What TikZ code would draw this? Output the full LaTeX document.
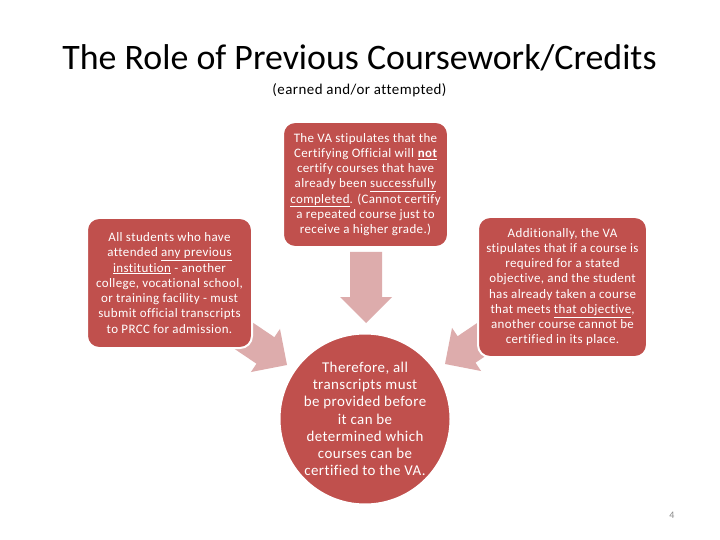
\documentclass[tikz,border=0pt]{standalone}
\usepackage{fontspec}
\setmainfont{Carlito}[Ligatures={NoCommon}]
\newfontfamily\boxfont{Carlito}[LetterSpace=3, Ligatures={NoCommon}]
\definecolor{boxred}{HTML}{C0504D}
\definecolor{arrowpink}{RGB}{221,172,172}
\definecolor{pagegray}{HTML}{898989}
\tikzset{
  rbox/.style={draw=white, line width=2bp, fill=boxred, rounded corners=12bp,
    text=white, align=center, inner sep=0pt,
    font=\boxfont\fontsize{13}{15.3}\selectfont},
  resultcircle/.style={circle, draw=white, line width=2bp, fill=boxred,
    text=white, align=center, inner sep=0pt, minimum size=171bp,
    font=\boxfont\fontsize{15}{17.3}\selectfont},
  blockarrow/.style={fill=arrowpink, draw=none},
  titletext/.style={anchor=base, inner sep=0pt, font=\fontsize{36}{40}\selectfont},
  subtext/.style={anchor=base, inner sep=0pt, font=\boxfont\fontsize{15}{17}\selectfont},
  pagenum/.style={inner sep=0pt, text=pagegray, font=\fontsize{10}{12}\selectfont}
}
% block arrow pointing along +x, tip at the origin of the scope
\newcommand{\drawblockarrow}{%
  \fill[blockarrow] (0,0) -- (-26,-26) -- (-26,-16) -- (-71,-16) -- (-71,16)
    -- (-26,16) -- (-26,26) -- cycle;}
\begin{document}
\begin{tikzpicture}[x=1bp, y=-1bp]
\useasboundingbox (0,0) rectangle (720,540);
\fill[white] (0,0) rectangle (720,540);

\node[titletext] (title) at (359.5,69.5) {The Role of Previous Coursework/Credits};
\node[subtext] (sub) at (359.5,95) {(earned and/or attempted)};

% block arrows (drawn first, partly hidden by the boxes)
\coordinate (tipdown) at (366,323);
\coordinate (tipleft) at (287,365);
\coordinate (tipright) at (445,364);
\begin{scope}[shift={(tipdown)}, rotate=-90] \drawblockarrow \end{scope}
\begin{scope}[shift={(tipleft)}, rotate=-34] \drawblockarrow \end{scope}
\begin{scope}[shift={(tipright)}, rotate=214] \drawblockarrow \end{scope}

\node[rbox, minimum width=165bp, minimum height=130bp] (left) at (169.5,283) {All students who have\\
attended \underline{any previous}\\
\underline{institution} - another\\
college, vocational school,\\
or training facility - must\\
submit official transcripts\\
to PRCC for admission.};

\node[rbox, minimum width=165bp, minimum height=125bp] (top) at (365.5,184.5) {The VA stipulates that the\\
Certifying Official will \textbf{\underline{not}}\\
certify courses that have\\
already been \underline{successfully}\\
\underline{completed}. (Cannot certify\\
a repeated course just to\\
receive a higher grade.)};

\node[rbox, minimum width=169bp, minimum height=140bp] (right) at (562.5,287) {Additionally, the VA\\
stipulates that if a course is\\
required for a stated\\
objective, and the student\\
has already taken a course\\
that meets \underline{that objective},\\
another course cannot be\\
certified in its place.};

\node[resultcircle] (res) at (365,419) {Therefore, all\\
transcripts must\\
be provided before\\
it can be\\
determined which\\
courses can be\\
certified to the VA.};

\node[pagenum] (pg) at (672,515) {4};
\end{tikzpicture}
\end{document}
